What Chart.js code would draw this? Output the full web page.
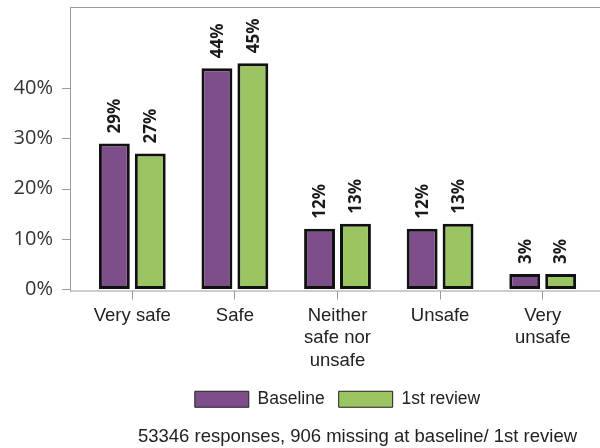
<!DOCTYPE html>
<html><head><meta charset="utf-8">
<script src="https://cdn.jsdelivr.net/npm/chart.js@4"></script>
<style>html,body{margin:0;padding:0;background:#fff}#wrap{width:600px;height:448px;position:relative}</style>
</head><body><div id="wrap"><canvas id="c" width="600" height="448"></canvas></div>
<script>
// ---- data ----
const categories = [['Very safe'], ['Safe'], ['Neither', 'safe nor', 'unsafe'], ['Unsafe'], ['Very', 'unsafe']];
const seriesNames = ['Baseline', '1st review'];
const baselineValues = [29, 44, 12, 12, 3];
const reviewValues = [27, 45, 13, 13, 3];
const yTickValues = [0, 10, 20, 30, 40];
const footnote = '53346 responses, 906 missing at baseline/ 1st review';

// ---- styles ----
const PURPLE = '#7e4e8a';
const GREEN = '#9bc462';
const LINE = '#9a9a9a';
const FRAME_LEFT = 70;

const decor = {
  id: 'decor',
  beforeDatasetsDraw(chart) {
    const {ctx, chartArea: a, scales: {y}} = chart;
    ctx.save();
    ctx.strokeStyle = LINE;
    ctx.lineWidth = 1;
    ctx.beginPath();
    ctx.moveTo(FRAME_LEFT + 0.5, a.top);
    ctx.lineTo(FRAME_LEFT + 0.5, a.bottom + 1);
    ctx.moveTo(FRAME_LEFT, a.top + 0.5);
    ctx.lineTo(chart.width, a.top + 0.5);
    ctx.moveTo(FRAME_LEFT, a.bottom + 0.5);
    ctx.lineTo(chart.width, a.bottom + 0.5);
    yTickValues.forEach(v => {
      const py = Math.round(y.getPixelForValue(v)) + 0.5;
      ctx.moveTo(FRAME_LEFT - 8, py);
      ctx.lineTo(FRAME_LEFT, py);
    });
    ctx.stroke();
    ctx.restore();
  },
  afterDatasetsDraw(chart) {
    const {ctx} = chart;
    ctx.save();
    ctx.fillStyle = '#1a1a1a';
    ctx.font = 'bold 17px "Open Sans"';
    ctx.textAlign = 'left';
    ctx.textBaseline = 'middle';
    chart.data.datasets.forEach((ds, di) => {
      chart.getDatasetMeta(di).data.forEach((bar, i) => {
        ctx.save();
        ctx.translate(bar.x, bar.y - 10);
        ctx.rotate(-Math.PI / 2);
        ctx.fillText(ds.data[i] + '%', 0, 1);
        ctx.restore();
      });
    });
    ctx.restore();
  },
  afterDraw(chart) {
    const {ctx} = chart;
    ctx.save();
    ctx.fillStyle = '#222';
    ctx.font = '18.5px "Liberation Sans"';
    ctx.textAlign = 'center';
    ctx.textBaseline = 'alphabetic';
    ctx.fillText(footnote, 357.5, 442);
    ctx.restore();
  }
};

new Chart(document.getElementById('c'), {
  type: 'bar',
  data: {
    labels: categories,
    datasets: [
      {label: seriesNames[0], data: baselineValues, backgroundColor: PURPLE, borderColor: '#111', borderWidth: 3, borderSkipped: false},
      {label: seriesNames[1], data: reviewValues, backgroundColor: GREEN, borderColor: '#111', borderWidth: 3, borderSkipped: false}
    ]
  },
  options: {
    responsive: false,
    devicePixelRatio: 1,
    animation: false,
    datasets: {bar: {barPercentage: 0.86, categoryPercentage: 0.70}},
    layout: {padding: {top: 7, right: 6, left: 0, bottom: 30}},
    plugins: {
      tooltip: {enabled: false},
      legend: {
        position: 'bottom',
        fullSize: false,
        labels: {
          color: '#222',
          font: {family: '"Liberation Sans"', size: 17.5},
          boxWidth: 54,
          boxHeight: 16,
          padding: 14,
          generateLabels(chart) {
            return chart.data.datasets.map((ds, i) => ({
              text: ds.label, fillStyle: ds.backgroundColor, strokeStyle: '#222',
              lineWidth: 1, hidden: false, datasetIndex: i, fontColor: '#222'
            }));
          }
        }
      }
    },
    scales: {
      x: {
        grid: {display: true, drawOnChartArea: false, drawTicks: true, tickLength: 9, color: LINE, offset: false},
        border: {display: false},
        ticks: {color: '#222', font: {family: '"Liberation Sans"', size: 18.5, lineHeight: 1.22}, padding: 5, maxRotation: 0, autoSkip: false},
        afterFit(s) { s.height = 86; }
      },
      y: {
        min: -0.3,
        max: 56.2,
        grid: {display: false, drawTicks: false},
        border: {display: false},
        ticks: {color: '#333', font: {family: '"Open Sans"', size: 20}, padding: 28, callback: v => v + '%'},
        afterBuildTicks(s) { s.ticks = yTickValues.map(v => ({value: v})); },
        afterFit(s) { s.width = 81; s.paddingTop = 0; s.paddingBottom = 0; }
      }
    }
  },
  plugins: [decor]
});
</script></body></html>
